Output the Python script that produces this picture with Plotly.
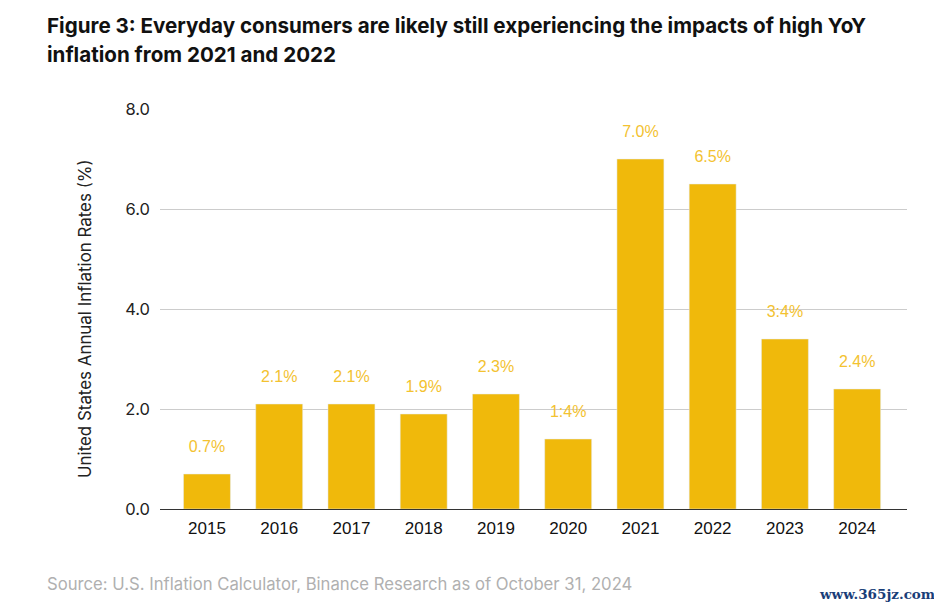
import plotly.graph_objects as go

years = ["2015","2016","2017","2018","2019","2020","2021","2022","2023","2024"]
rates = [0.7,2.1,2.1,1.9,2.3,1.4,7.0,6.5,3.4,2.4]
labels = ["0.7%","2.1%","2.1%","1.9%","2.3%","1:4%","7.0%","6.5%","3:4%","2.4%"]
label_heights = [1.23,2.63,2.63,2.43,2.83,1.93,7.53,7.03,3.93,2.93]
tickvals = [0,2,4,6,8]
ticktext = ["0.0","2.0","4.0","6.0","8.0"]
title_line_1 = "Figure 3: Everyday consumers are likely still experiencing the impacts of high YoY"
title_line_2 = "inflation from 2021 and 2022"
y_title = "United States Annual Inflation Rates (%)"
source = "Source: U.S. Inflation Calculator, Binance Research as of October 31, 2024"
watermark = "www.365jz.com"

W, H = 926, 594
L, R, T, B = 152, 27, 101, 93
PW, PH = W - L - R, H - T - B

def px(x):
    return (x - L) / PW

def py(y):
    return (H - B - y) / PH

fig = go.Figure(go.Bar(x=years, y=rates, marker_color="#F0B90B", width=0.65, showlegend=False))
fig.add_trace(go.Scatter(x=years, y=label_heights, mode="text", text=labels,
    textfont=dict(family="Liberation Sans", size=16, color="#F3C230"),
    showlegend=False, cliponaxis=False, hoverinfo="skip"))

def note(text, x, y, size, color, family, xanchor="left", **kw):
    return dict(text=text, xref="paper", yref="paper", x=px(x), y=py(y), xanchor=xanchor,
                yanchor="middle", showarrow=False, xshift=0, yshift=0,
                font=dict(family=family, size=size, color=color), **kw)

fig.update_layout(
    width=W, height=H, autosize=False, paper_bgcolor="white", plot_bgcolor="white",
    margin=dict(l=L, r=R, t=T, b=B),
    font=dict(family="Inter", color="#111111"),
    xaxis=dict(type="category", range=[-0.65, 9.69], tickfont=dict(family="Liberation Sans", size=17, color="#111111"),
               showline=True, linecolor="#333333", linewidth=1, ticks="", ticklabelstandoff=4, showgrid=False),
    yaxis=dict(range=[0, 8], tickvals=tickvals, ticktext=ticktext, tickfont=dict(family="Inter", size=16.5, color="#222222"),
               gridcolor="#CCCCCC", gridwidth=1, zeroline=False, ticks="", ticklabelstandoff=9),
    annotations=[
        note(f"<b>{title_line_1}</b>", 37, 17, 20.6, "#111111", "Inter"),
        note(f"<b>{title_line_2}</b>", 37, 46, 20.6, "#111111", "Inter"),
        note(y_title, 77, 311, 16.9, "#222222", "Inter", xanchor="center", textangle=-90),
        note(source, 37, 576, 16.7, "#B0B0B0", "Inter"),
        note(f"<b>{watermark}</b>", 809, 586, 13.5, "#1A3E78", "DejaVu Serif"),
    ],
)
fig.write_html("out.html")
